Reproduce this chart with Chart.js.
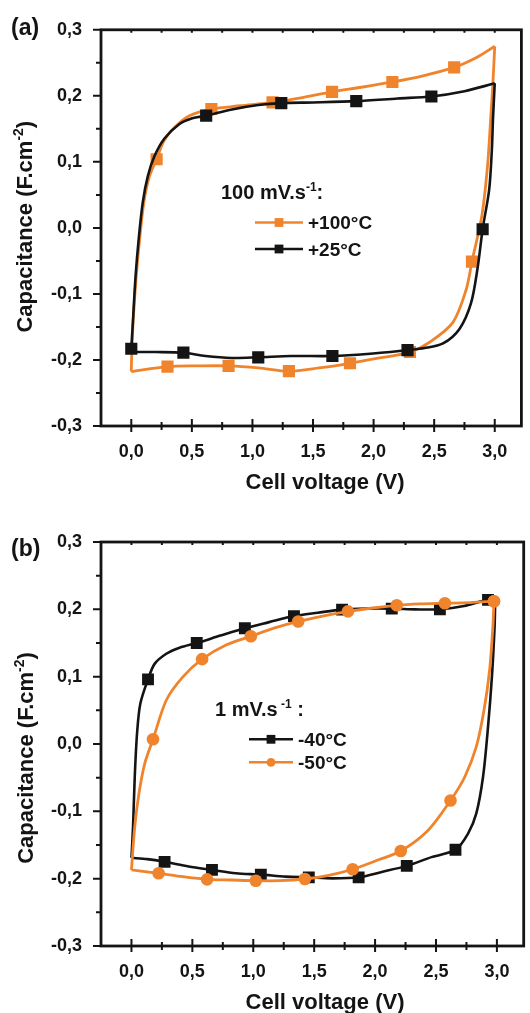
<!DOCTYPE html>
<html>
<head>
<meta charset="utf-8">
<script src="https://cdn.jsdelivr.net/npm/chart.js@4.4.0/dist/chart.umd.min.js"></script>
<style>
  body { margin: 0; background: #fff; }
  canvas { display: block; }
</style>
</head>
<body>
<canvas id="chartA" width="530" height="500"></canvas>
<canvas id="chartB" width="530" height="513"></canvas>
<script>
// Ejes comunes
const xTicks = [0, 0.5, 1, 1.5, 2, 2.5, 3];
const xMinorTicks = [0.25, 0.75, 1.25, 1.75, 2.25, 2.75];
const yTicks = [-0.3, -0.2, -0.1, 0, 0.1, 0.2, 0.3];
const yMinorTicks = [-0.25, -0.15, -0.05, 0.05, 0.15, 0.25];

// (a) 100 mV/s, +25°C (bucle: subida, rama superior, bajada, rama inferior)
const a25V = [0, 0.013, 0.035, 0.062, 0.095, 0.136, 0.19, 0.272, 0.395, 0.503,
  0.618, 0.82, 1.048, 1.238, 1.5, 1.857, 2.2, 2.477, 2.75, 3.0,
  2.986, 2.976, 2.954, 2.9, 2.859, 2.804, 2.709, 2.573, 2.42, 2.28,
  1.946, 1.66, 1.32, 1.048, 0.83, 0.612, 0.43, 0.204, 0];
const a25C = [-0.183, -0.143, -0.074, -0.015, 0.039, 0.078, 0.108, 0.135, 0.157, 0.166,
  0.170, 0.179, 0.186, 0.189, 0.190, 0.192, 0.196, 0.199, 0.207, 0.219,
  0.167, 0.118, 0.058, -0.002, -0.060, -0.114, -0.153, -0.175, -0.182, -0.185,
  -0.191, -0.194, -0.194, -0.196, -0.197, -0.194, -0.189, -0.188, -0.188];
const a25Marks = [0, 10, 13, 15, 17, 23, 29, 31, 33, 36];
const a25Turn = 19;   // vértice a 3,0 V

// (a) 100 mV/s, +100°C
const a100V = [0, 0.004, 0.016, 0.04, 0.07, 0.105, 0.15, 0.209, 0.27, 0.367,
  0.48, 0.661, 0.9, 1.166, 1.4, 1.657, 1.9, 2.155, 2.4, 2.665,
  2.85, 3.0, 2.985, 2.967, 2.94, 2.894, 2.812, 2.763, 2.655, 2.464,
  2.3, 2.05, 1.805, 1.55, 1.301, 1.05, 0.803, 0.55, 0.299, 0];
const a100C = [-0.2175, -0.19, -0.14, -0.075, -0.015, 0.04, 0.078, 0.104, 0.132, 0.154,
  0.170, 0.180, 0.185, 0.190, 0.197, 0.206, 0.213, 0.221, 0.230, 0.243,
  0.258, 0.275, 0.22, 0.167, 0.093, 0.019, -0.051, -0.094, -0.143, -0.173,
  -0.188, -0.197, -0.205, -0.212, -0.217, -0.212, -0.209, -0.209, -0.21, -0.2175];
const a100Marks = [7, 11, 13, 15, 17, 19, 26, 30, 32, 34, 36, 38];
const a100Turn = 21;

// (b) 1 mV/s, -40°C
const b40V = [0, 0.013, 0.027, 0.046, 0.073, 0.136, 0.19, 0.286, 0.395, 0.536,
  0.73, 0.931, 1.13, 1.334, 1.53, 1.729, 1.93, 2.137, 2.33, 2.532,
  2.73, 2.927, 2.986, 2.981, 2.959, 2.927, 2.886, 2.831, 2.763, 2.66,
  2.463, 2.26, 2.055, 1.865, 1.647, 1.456, 1.266, 1.062, 0.857, 0.661,
  0.47, 0.272, 0.13, 0];
const b40C = [-0.169, -0.123, -0.049, 0.016, 0.06, 0.096, 0.119, 0.134, 0.143, 0.15,
  0.161, 0.172, 0.181, 0.19, 0.195, 0.1996, 0.201, 0.201, 0.2, 0.2,
  0.205, 0.214, 0.212, 0.174, 0.0996, 0.025, -0.049, -0.103, -0.133, -0.157,
  -0.168, -0.181, -0.19, -0.198, -0.1995, -0.198, -0.197, -0.194, -0.192, -0.187,
  -0.182, -0.175, -0.171, -0.169];
const b40Marks = [5, 9, 11, 13, 15, 17, 19, 21, 29, 31, 33, 35, 37, 39, 41];
const b40Turn = 22;

// (b) 1 mV/s, -50°C
const b50V = [0, 0.027, 0.062, 0.109, 0.177, 0.286, 0.422, 0.58, 0.776, 0.98,
  1.17, 1.369, 1.57, 1.777, 1.98, 2.178, 2.37, 2.573, 2.78, 2.976,
  2.967, 2.94, 2.894, 2.831, 2.736, 2.619, 2.436, 2.211, 2.028, 1.816,
  1.62, 1.424, 1.22, 1.021, 0.82, 0.621, 0.42, 0.223, 0];
const b50C = [-0.187, -0.123, -0.073, -0.029, 0.007, 0.065, 0.0996, 0.126, 0.147, 0.16,
  0.172, 0.182, 0.19, 0.197, 0.202, 0.206, 0.208, 0.209, 0.21, 0.212,
  0.174, 0.1095, 0.05, -0.004, -0.049, -0.084, -0.128, -0.159, -0.172, -0.186,
  -0.195, -0.2005, -0.203, -0.203, -0.202, -0.201, -0.197, -0.192, -0.187];
const b50Marks = [4, 7, 9, 11, 13, 15, 17, 19, 25, 27, 29, 31, 33, 35, 37];
const b50Turn = 19;

const INK = '#141414';
const ORANGE = '#F0842C';
const FONT = "'Liberation Sans', Arial, Helvetica, sans-serif";

// Texto con superíndices: parts = [[texto, esSup], ...]
function richWidth(ctx, parts, size) {
  let w = 0;
  parts.forEach(([t, sup]) => {
    ctx.font = `bold ${sup ? Math.round(size * 0.62) : size}px ${FONT}`;
    w += ctx.measureText(t).width;
  });
  return w;
}
function drawRich(ctx, parts, x, y, size) {
  let cx = x;
  parts.forEach(([t, sup]) => {
    ctx.font = `bold ${sup ? Math.round(size * 0.62) : size}px ${FONT}`;
    ctx.fillText(t, cx, sup ? y - size * 0.4 : y);
    cx += ctx.measureText(t).width;
  });
}

function marker(ctx, style, x, y, r, color) {
  ctx.fillStyle = color;
  if (style === 'circle') {
    ctx.beginPath(); ctx.arc(x, y, r, 0, Math.PI * 2); ctx.fill();
  } else {
    ctx.fillRect(x - r, y - r, 2 * r, 2 * r);
  }
}

// Marco, marcas de ejes, títulos y leyenda
const decorPlugin = {
  id: 'decor',
  afterDraw(chart, args, o) {
    const { ctx, chartArea: a } = chart;
    const sx = chart.scales.x, sy = chart.scales.y;
    ctx.save();
    ctx.strokeStyle = INK;
    ctx.lineWidth = 2.8;
    ctx.strokeRect(a.left, a.top, a.right - a.left, a.bottom - a.top);
    ctx.lineWidth = 2;
    ctx.beginPath();
    xTicks.forEach(v => {
      const p = sx.getPixelForValue(v);
      ctx.moveTo(p, a.bottom - 7); ctx.lineTo(p, a.bottom + 6);
      ctx.moveTo(p, a.top); ctx.lineTo(p, a.top + 3);
    });
    xMinorTicks.forEach(v => {
      const p = sx.getPixelForValue(v);
      ctx.moveTo(p, a.bottom - 4); ctx.lineTo(p, a.bottom + 4);
      ctx.moveTo(p, a.top); ctx.lineTo(p, a.top + 3);
    });
    yTicks.forEach(v => {
      const p = sy.getPixelForValue(v);
      ctx.moveTo(a.left - 8, p); ctx.lineTo(a.left, p);
    });
    yMinorTicks.forEach(v => {
      const p = sy.getPixelForValue(v);
      ctx.moveTo(a.left - 5, p); ctx.lineTo(a.left, p);
    });
    ctx.stroke();

    ctx.fillStyle = INK;
    ctx.textBaseline = 'alphabetic';
    ctx.textAlign = 'left';
    // etiqueta del panel
    ctx.font = `bold 23px ${FONT}`;
    ctx.fillText(o.panel, 11, o.panelY);
    // título eje X
    ctx.font = `bold 22px ${FONT}`;
    ctx.textAlign = 'center';
    ctx.fillText('Cell voltage (V)', 325, o.xTitleY);
    ctx.textAlign = 'left';
    // título eje Y (rotado)
    const yParts = [['Capacitance (F.cm', false], ['-2', true], [')', false]];
    const yw = richWidth(ctx, yParts, 22);
    ctx.save();
    ctx.translate(o.yTitleX, o.yTitleY);
    ctx.rotate(-Math.PI / 2);
    drawRich(ctx, yParts, -yw / 2, 0, 22);
    ctx.restore();
    // leyenda
    const L = o.legend;
    ctx.fillStyle = INK;
    drawRich(ctx, L.title, L.titleX, L.titleY, 20);
    L.items.forEach(it => {
      ctx.strokeStyle = it.color;
      ctx.lineWidth = 2.6;
      ctx.beginPath();
      ctx.moveTo(L.x0, it.y); ctx.lineTo(L.x1, it.y);
      ctx.stroke();
      marker(ctx, it.style, (L.x0 + L.x1) / 2, it.y, 4.4, it.color);
      ctx.fillStyle = INK;
      ctx.font = `bold 19px ${FONT}`;
      ctx.fillText(it.label, L.textX, it.y + 6.8);
    });
    ctx.restore();
  }
};

function fmt(v) {
  if (Math.abs(v) < 1e-9) return '0,0';
  return v.toFixed(1).replace('.', ',');
}

// Un barrido (ida o vuelta) del voltagrama como línea abierta
function sweep(V, C, marks, from, to, color, width, style, size) {
  const idx = [];
  for (let i = from; i <= to; i++) idx.push(i);
  return {
    data: idx.map(i => ({ x: V[i], y: C[i] })),
    showLine: true,
    borderColor: color,
    borderWidth: width,
    tension: 0.3,
    pointStyle: style,
    pointRadius: idx.map(i => marks.includes(i) ? size : 0),
    pointHoverRadius: 0,
    pointBackgroundColor: color,
    pointBorderWidth: 0
  };
}
function loop(V, C, marks, turn, color, width, style, size) {
  return [
    sweep(V, C, marks, 0, turn, color, width, style, size),
    sweep(V, C, marks, turn, V.length - 1, color, width, style, size)
  ];
}

function buildPanel(id, datasets, topPad, xHeight, decor) {
  return new Chart(document.getElementById(id), {
    type: 'scatter',
    data: { datasets },
    options: {
      responsive: false,
      animation: false,
      events: [],
      layout: { padding: { left: 0, right: 3, top: topPad, bottom: 0 } },
      plugins: { legend: { display: false }, tooltip: { enabled: false }, decor },
      scales: {
        x: {
          type: 'linear', min: -0.25, max: 3.22,
          grid: { display: false, drawTicks: false },
          border: { display: false },
          ticks: { color: INK, padding: 15, font: { family: FONT, size: 18, weight: 'bold' }, callback: fmt },
          afterBuildTicks: s => { s.ticks = xTicks.map(v => ({ value: v })); },
          afterFit: s => { s.height = xHeight; }
        },
        y: {
          type: 'linear', min: -0.3, max: 0.3,
          grid: { display: false, drawTicks: false },
          border: { display: false },
          ticks: { color: INK, padding: 19, font: { family: FONT, size: 18, weight: 'bold' }, callback: fmt },
          afterBuildTicks: s => { s.ticks = yTicks.map(v => ({ value: v })); },
          afterFit: s => { s.width = 101; }
        }
      }
    },
    plugins: [decorPlugin]
  });
}

// Panel (a): los primeros datasets quedan encima
buildPanel('chartA', [
  ...loop(a25V, a25C, a25Marks, a25Turn, INK, 2.6, 'rect', 8.6),
  ...loop(a100V, a100C, a100Marks, a100Turn, ORANGE, 2.8, 'rect', 8.6)
], 20, 74, {
  panel: '(a)', panelY: 35, xTitleY: 488.5, yTitleX: 32, yTitleY: 226.7,
  legend: {
    title: [['100 mV.s', false], ['-1', true], [':', false]],
    titleX: 221, titleY: 199, x0: 255, x1: 303, textX: 308,
    items: [
      { label: '+100°C', color: ORANGE, style: 'rect', y: 222.5 },
      { label: '+25°C', color: INK, style: 'rect', y: 249 }
    ]
  }
});

// Panel (b)
buildPanel('chartB', [
  ...loop(b50V, b50C, b50Marks, b50Turn, ORANGE, 2.8, 'circle', 6.3),
  ...loop(b40V, b40C, b40Marks, b40Turn, INK, 2.6, 'rect', 8.4)
], 42, 67, {
  panel: '(b)', panelY: 56, xTitleY: 508.8, yTitleX: 33, yTitleY: 258,
  legend: {
    title: [['1 mV.s', false], [' -1', true], [' :', false]],
    titleX: 215, titleY: 216, x0: 249, x1: 293, textX: 298,
    items: [
      { label: '-40°C', color: INK, style: 'rect', y: 239.3 },
      { label: '-50°C', color: ORANGE, style: 'circle', y: 262.3 }
    ]
  }
});
</script>
</body>
</html>
